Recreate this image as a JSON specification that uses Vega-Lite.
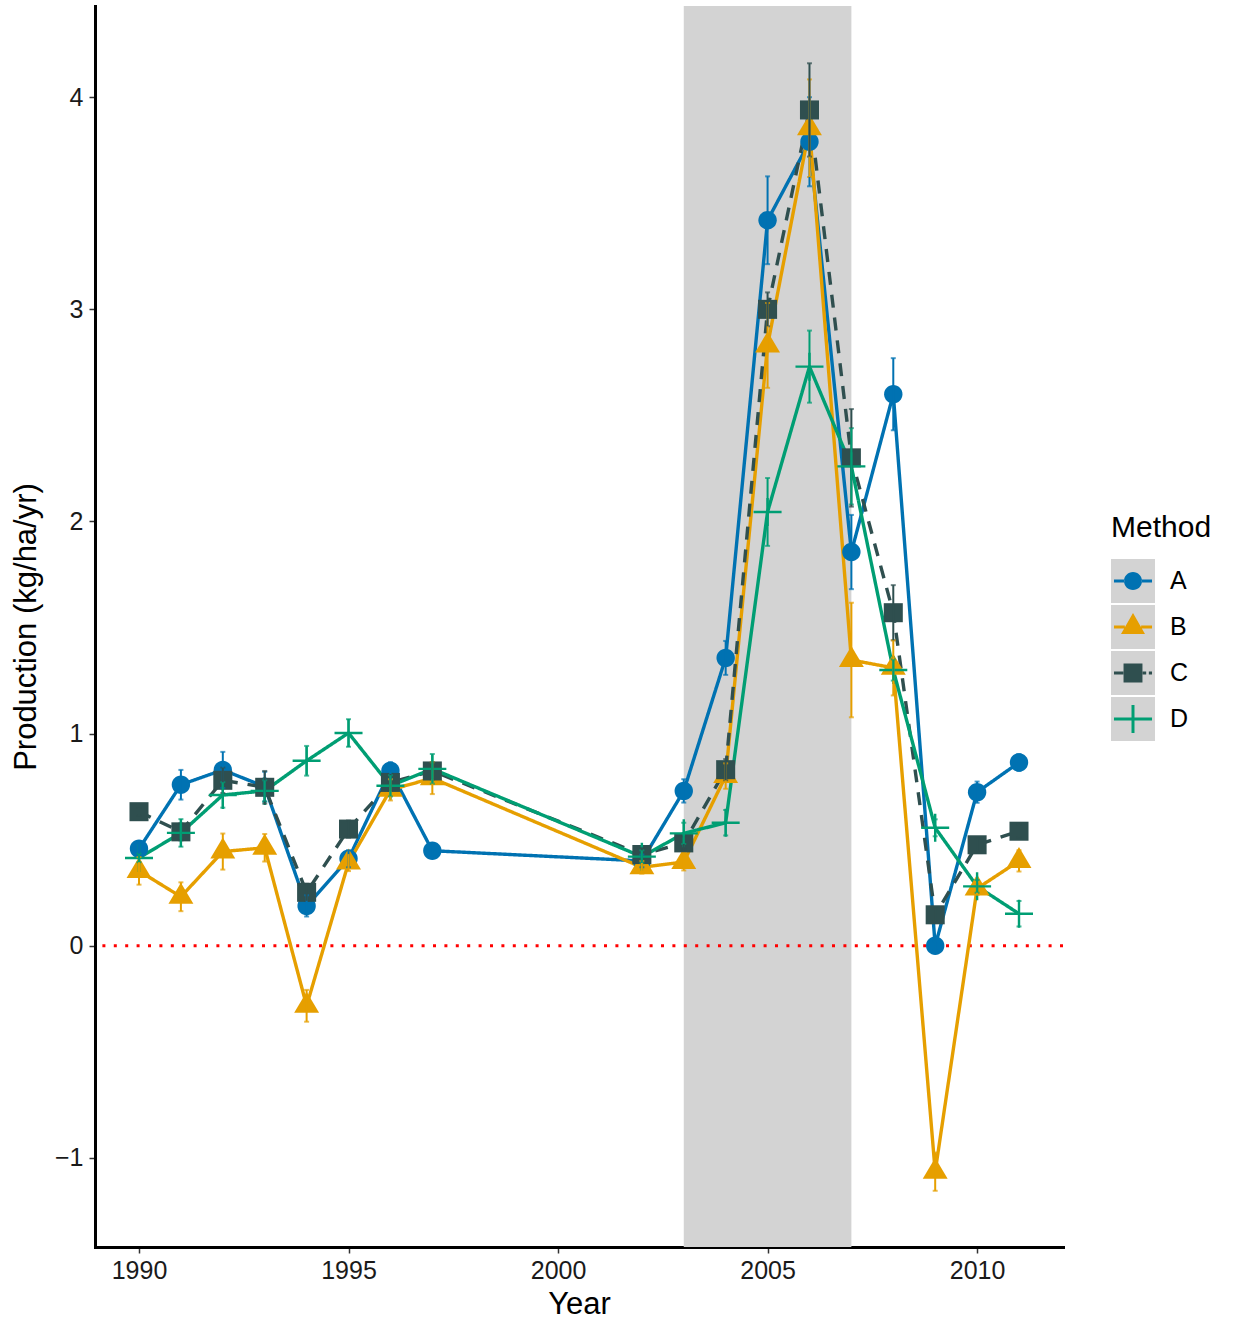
{
  "$schema": "https://vega.github.io/schema/vega-lite/v6.json",
  "autosize": "none",
  "width": 968,
  "height": 1241,
  "padding": {"left": 95, "top": 6, "right": 171, "bottom": 74},
  "background": "white",
  "config": {
    "font": "Liberation Sans",
    "view": {"stroke": null},
    "axis": {
      "grid": false,
      "domainColor": "black",
      "domainWidth": 3,
      "domainCap": "square",
      "tickColor": "#333333",
      "tickWidth": 1.5,
      "tickSize": 6,
      "labelFontSize": 25,
      "labelColor": "#1a1a1a",
      "titleFontSize": 31,
      "titleFontWeight": "normal",
      "titleColor": "black"
    },
    "legend": {
      "orient": "none",
      "legendX": 1016,
      "legendY": 507,
      "padding": 0,
      "titleFontSize": 30,
      "titleFontWeight": "normal",
      "titleColor": "black",
      "titlePadding": 16,
      "labelFontSize": 25,
      "labelColor": "black",
      "labelOffset": 15,
      "symbolSize": 1936,
      "symbolStrokeWidth": 0,
      "rowPadding": 2
    }
  },
  "datasets": {
    "production": [
      {"Year": 1990, "Method": "A", "Value": 0.457, "Lower": 0.427, "Upper": 0.487},
      {"Year": 1991, "Method": "A", "Value": 0.759, "Lower": 0.689, "Upper": 0.829},
      {"Year": 1992, "Method": "A", "Value": 0.829, "Lower": 0.744, "Upper": 0.914},
      {"Year": 1993, "Method": "A", "Value": 0.75, "Lower": 0.68, "Upper": 0.82},
      {"Year": 1994, "Method": "A", "Value": 0.188, "Lower": 0.138, "Upper": 0.238},
      {"Year": 1995, "Method": "A", "Value": 0.41, "Lower": 0.37, "Upper": 0.45},
      {"Year": 1996, "Method": "A", "Value": 0.825, "Lower": 0.785, "Upper": 0.865},
      {"Year": 1997, "Method": "A", "Value": 0.448, "Lower": 0.418, "Upper": 0.478},
      {"Year": 2002, "Method": "A", "Value": 0.40, "Lower": 0.37, "Upper": 0.43},
      {"Year": 2003, "Method": "A", "Value": 0.73, "Lower": 0.675, "Upper": 0.785},
      {"Year": 2004, "Method": "A", "Value": 1.357, "Lower": 1.277, "Upper": 1.437},
      {"Year": 2005, "Method": "A", "Value": 3.42, "Lower": 3.213, "Upper": 3.627},
      {"Year": 2006, "Method": "A", "Value": 3.79, "Lower": 3.58, "Upper": 4.0},
      {"Year": 2007, "Method": "A", "Value": 1.856, "Lower": 1.681, "Upper": 2.031},
      {"Year": 2008, "Method": "A", "Value": 2.6, "Lower": 2.43, "Upper": 2.77},
      {"Year": 2009, "Method": "A", "Value": 0.0, "Lower": -0.02, "Upper": 0.02},
      {"Year": 2010, "Method": "A", "Value": 0.724, "Lower": 0.674, "Upper": 0.774},
      {"Year": 2011, "Method": "A", "Value": 0.864, "Lower": 0.824, "Upper": 0.904},

      {"Year": 1990, "Method": "B", "Value": 0.353, "Lower": 0.288, "Upper": 0.418},
      {"Year": 1991, "Method": "B", "Value": 0.231, "Lower": 0.163, "Upper": 0.299},
      {"Year": 1992, "Method": "B", "Value": 0.444, "Lower": 0.359, "Upper": 0.529},
      {"Year": 1993, "Method": "B", "Value": 0.462, "Lower": 0.397, "Upper": 0.527},
      {"Year": 1994, "Method": "B", "Value": -0.283, "Lower": -0.358, "Upper": -0.208},
      {"Year": 1995, "Method": "B", "Value": 0.392, "Lower": 0.352, "Upper": 0.432},
      {"Year": 1996, "Method": "B", "Value": 0.735, "Lower": 0.685, "Upper": 0.785},
      {"Year": 1997, "Method": "B", "Value": 0.79, "Lower": 0.715, "Upper": 0.865},
      {"Year": 2002, "Method": "B", "Value": 0.37, "Lower": 0.34, "Upper": 0.40},
      {"Year": 2003, "Method": "B", "Value": 0.395, "Lower": 0.355, "Upper": 0.435},
      {"Year": 2004, "Method": "B", "Value": 0.80, "Lower": 0.74, "Upper": 0.86},
      {"Year": 2005, "Method": "B", "Value": 2.83, "Lower": 2.63, "Upper": 3.03},
      {"Year": 2006, "Method": "B", "Value": 3.854, "Lower": 3.624, "Upper": 4.084},
      {"Year": 2007, "Method": "B", "Value": 1.347, "Lower": 1.077, "Upper": 1.617},
      {"Year": 2008, "Method": "B", "Value": 1.31, "Lower": 1.18, "Upper": 1.44},
      {"Year": 2009, "Method": "B", "Value": -1.065, "Lower": -1.155, "Upper": -0.975},
      {"Year": 2010, "Method": "B", "Value": 0.27, "Lower": 0.24, "Upper": 0.30},
      {"Year": 2011, "Method": "B", "Value": 0.40, "Lower": 0.35, "Upper": 0.45},

      {"Year": 1990, "Method": "C", "Value": 0.632, "Lower": 0.612, "Upper": 0.652},
      {"Year": 1991, "Method": "C", "Value": 0.537, "Lower": 0.497, "Upper": 0.577},
      {"Year": 1992, "Method": "C", "Value": 0.78, "Lower": 0.72, "Upper": 0.84},
      {"Year": 1993, "Method": "C", "Value": 0.747, "Lower": 0.67, "Upper": 0.824},
      {"Year": 1994, "Method": "C", "Value": 0.252, "Lower": 0.212, "Upper": 0.292},
      {"Year": 1995, "Method": "C", "Value": 0.55, "Lower": 0.51, "Upper": 0.59},
      {"Year": 1996, "Method": "C", "Value": 0.77, "Lower": 0.73, "Upper": 0.81},
      {"Year": 1997, "Method": "C", "Value": 0.824, "Lower": 0.784, "Upper": 0.864},
      {"Year": 2002, "Method": "C", "Value": 0.43, "Lower": 0.40, "Upper": 0.46},
      {"Year": 2003, "Method": "C", "Value": 0.485, "Lower": 0.455, "Upper": 0.515},
      {"Year": 2004, "Method": "C", "Value": 0.83, "Lower": 0.78, "Upper": 0.88},
      {"Year": 2005, "Method": "C", "Value": 3.0, "Lower": 2.92, "Upper": 3.08},
      {"Year": 2006, "Method": "C", "Value": 3.94, "Lower": 3.72, "Upper": 4.16},
      {"Year": 2007, "Method": "C", "Value": 2.3, "Lower": 2.07, "Upper": 2.53},
      {"Year": 2008, "Method": "C", "Value": 1.57, "Lower": 1.44, "Upper": 1.70},
      {"Year": 2009, "Method": "C", "Value": 0.146, "Lower": 0.116, "Upper": 0.176},
      {"Year": 2010, "Method": "C", "Value": 0.476, "Lower": 0.446, "Upper": 0.506},
      {"Year": 2011, "Method": "C", "Value": 0.54, "Lower": 0.51, "Upper": 0.57},

      {"Year": 1990, "Method": "D", "Value": 0.414, "Lower": 0.394, "Upper": 0.434},
      {"Year": 1991, "Method": "D", "Value": 0.532, "Lower": 0.467, "Upper": 0.597},
      {"Year": 1992, "Method": "D", "Value": 0.711, "Lower": 0.651, "Upper": 0.771},
      {"Year": 1993, "Method": "D", "Value": 0.73, "Lower": 0.68, "Upper": 0.78},
      {"Year": 1994, "Method": "D", "Value": 0.872, "Lower": 0.802, "Upper": 0.942},
      {"Year": 1995, "Method": "D", "Value": 1.003, "Lower": 0.938, "Upper": 1.068},
      {"Year": 1996, "Method": "D", "Value": 0.754, "Lower": 0.704, "Upper": 0.804},
      {"Year": 1997, "Method": "D", "Value": 0.834, "Lower": 0.764, "Upper": 0.904},
      {"Year": 2002, "Method": "D", "Value": 0.42, "Lower": 0.39, "Upper": 0.45},
      {"Year": 2003, "Method": "D", "Value": 0.53, "Lower": 0.48, "Upper": 0.58},
      {"Year": 2004, "Method": "D", "Value": 0.58, "Lower": 0.52, "Upper": 0.64},
      {"Year": 2005, "Method": "D", "Value": 2.045, "Lower": 1.885, "Upper": 2.205},
      {"Year": 2006, "Method": "D", "Value": 2.73, "Lower": 2.56, "Upper": 2.90},
      {"Year": 2007, "Method": "D", "Value": 2.26, "Lower": 2.08, "Upper": 2.44},
      {"Year": 2008, "Method": "D", "Value": 1.30, "Lower": 1.25, "Upper": 1.35},
      {"Year": 2009, "Method": "D", "Value": 0.556, "Lower": 0.516, "Upper": 0.596},
      {"Year": 2010, "Method": "D", "Value": 0.28, "Lower": 0.25, "Upper": 0.31},
      {"Year": 2011, "Method": "D", "Value": 0.151, "Lower": 0.091, "Upper": 0.211}
    ]
  },
  "layer": [
    {
      "data": {"values": [{"Swatch": "A"}, {"Swatch": "B"}, {"Swatch": "C"}, {"Swatch": "D"}]},
      "mark": {"type": "point", "filled": true, "opacity": 0},
      "encoding": {
        "fill": {
          "field": "Swatch", "type": "nominal",
          "scale": {"range": ["#d3d3d3", "#d3d3d3", "#d3d3d3", "#d3d3d3"]},
          "legend": {
            "title": "Method",
            "titleOpacity": 0,
            "labelOpacity": 0,
            "symbolType": "square",
            "symbolOpacity": 1,
            "encode": {
              "symbols": {"update": {"opacity": {"value": 1}, "strokeWidth": {"value": 0}}}
            }
          }
        }
      }
    },
    {
      "data": {"values": [{"start": 2003, "end": 2007}]},
      "mark": {"type": "rect", "color": "#d3d3d3"},
      "encoding": {
        "x": {
          "field": "start", "type": "quantitative",
          "scale": {"domain": [1988.95, 2012.05], "nice": false, "zero": false},
          "axis": {
            "title": "Year", "values": [1990, 1995, 2000, 2005, 2010], "format": "d",
            "labelPadding": 5, "titlePadding": 6
          }
        },
        "x2": {"field": "end"}
      }
    },
    {
      "data": {"values": [{"level": 0}]},
      "mark": {"type": "rule", "color": "#ff0000", "strokeWidth": 3, "strokeDash": [3, 8.4]},
      "encoding": {
        "y": {
          "field": "level", "type": "quantitative",
          "scale": {"domain": [-1.42, 4.43], "nice": false, "zero": false},
          "axis": {
            "title": "Production (kg/ha/yr)", "values": [-1, 0, 1, 2, 3, 4], "format": "d",
            "labelPadding": 6, "titlePadding": 12
          }
        }
      }
    },
    {
      "data": {"name": "production"},
      "mark": {"type": "line", "strokeWidth": 3.4, "strokeJoin": "round"},
      "encoding": {
        "x": {"field": "Year", "type": "quantitative", "title": "Year"},
        "y": {"field": "Value", "type": "quantitative", "title": "Production (kg/ha/yr)"},
        "color": {
          "field": "Method", "type": "nominal", "title": "Method",
          "scale": {"domain": ["A", "B", "C", "D"], "range": ["#0072B2", "#E69F00", "#2F4F4F", "#009E73"]},
          "legend": {
            "title": "Method",
            "encode": {
              "symbols": {
                "update": {
                  "shape": {"signal": "datum.value === 'A' ? 'M-1,-1Z M1,1Z M-0.864,-0.073H-0.4V0.073H-0.864Z M0.4,-0.073H0.864V0.073H0.4Z M-0.41,0A0.41,0.41 0 1,0 0.41,0A0.41,0.41 0 1,0 -0.41,0Z' : datum.value === 'B' ? 'M-1,-1Z M1,1Z M-0.864,-0.073H-0.37V0.073H-0.864Z M0.37,-0.073H0.864V0.073H0.37Z M0,-0.636L0.545,0.318L-0.545,0.318Z' : datum.value === 'C' ? 'M-1,-1Z M1,1Z M-0.864,-0.073H-0.44V0.073H-0.864Z M0.44,-0.073H0.6V0.073H0.44Z M0.72,-0.073H0.864V0.073H0.72Z M-0.43,-0.43H0.43V0.43H-0.43Z' : 'M-1,-1Z M1,1Z M-0.864,-0.068H-0.068V-0.636H0.068V-0.068H0.864V0.068H0.068V0.636H-0.068V0.068H-0.864Z'"},
                  "strokeWidth": {"value": 0},
                  "opacity": {"value": 1},
                  "size": {"value": 1936}
                }
              }
            }
          }
        },
        "strokeDash": {
          "field": "Method", "type": "nominal",
          "scale": {"domain": ["A", "B", "C", "D"], "range": [[1, 0], [1, 0], [13, 10], [1, 0]]},
          "legend": null
        }
      }
    },
    {
      "data": {"name": "production"},
      "mark": {"type": "point", "filled": true, "opacity": 1, "size": 784, "strokeWidth": 0},
      "encoding": {
        "x": {"field": "Year", "type": "quantitative", "title": "Year"},
        "y": {"field": "Value", "type": "quantitative", "title": "Production (kg/ha/yr)"},
        "color": {
          "field": "Method", "type": "nominal", "title": "Method",
          "legend": {
            "title": "Method",
            "encode": {
              "symbols": {
                "update": {
                  "shape": {"signal": "datum.value === 'A' ? 'M-1,-1Z M1,1Z M-0.864,-0.073H-0.4V0.073H-0.864Z M0.4,-0.073H0.864V0.073H0.4Z M-0.41,0A0.41,0.41 0 1,0 0.41,0A0.41,0.41 0 1,0 -0.41,0Z' : datum.value === 'B' ? 'M-1,-1Z M1,1Z M-0.864,-0.073H-0.37V0.073H-0.864Z M0.37,-0.073H0.864V0.073H0.37Z M0,-0.636L0.545,0.318L-0.545,0.318Z' : datum.value === 'C' ? 'M-1,-1Z M1,1Z M-0.864,-0.073H-0.44V0.073H-0.864Z M0.44,-0.073H0.6V0.073H0.44Z M0.72,-0.073H0.864V0.073H0.72Z M-0.43,-0.43H0.43V0.43H-0.43Z' : 'M-1,-1Z M1,1Z M-0.864,-0.068H-0.068V-0.636H0.068V-0.068H0.864V0.068H0.068V0.636H-0.068V0.068H-0.864Z'"},
                  "strokeWidth": {"value": 0},
                  "opacity": {"value": 1},
                  "size": {"value": 1936}
                }
              }
            }
          }
        },
        "shape": {
          "field": "Method", "type": "nominal",
          "scale": {
            "domain": ["D", "C", "B", "A"],
            "range": [
              "M-1,-0.086H-0.086V-1H0.086V-0.086H1V0.086H0.086V1H-0.086V0.086H-1Z",
              "M-0.68,-0.68H0.68V0.68H-0.68Z",
              "M0,-1L0.89,0.5L-0.89,0.5Z",
              "M-0.657,0A0.657,0.657 0 1,0 0.657,0A0.657,0.657 0 1,0 -0.657,0Z"
            ]
          },
          "legend": null
        }
      }
    },
    {
      "data": {"name": "production"},
      "mark": {"type": "errorbar", "thickness": 2, "ticks": {"size": 5, "thickness": 2}},
      "encoding": {
        "x": {"field": "Year", "type": "quantitative", "title": "Year"},
        "y": {"field": "Lower", "type": "quantitative", "title": "Production (kg/ha/yr)"},
        "y2": {"field": "Upper"},
        "color": {
          "field": "Method", "type": "nominal", "title": "Method",
          "legend": {
            "title": "Method",
            "encode": {
              "symbols": {
                "update": {
                  "shape": {"signal": "datum.value === 'A' ? 'M-1,-1Z M1,1Z M-0.864,-0.073H-0.4V0.073H-0.864Z M0.4,-0.073H0.864V0.073H0.4Z M-0.41,0A0.41,0.41 0 1,0 0.41,0A0.41,0.41 0 1,0 -0.41,0Z' : datum.value === 'B' ? 'M-1,-1Z M1,1Z M-0.864,-0.073H-0.37V0.073H-0.864Z M0.37,-0.073H0.864V0.073H0.37Z M0,-0.636L0.545,0.318L-0.545,0.318Z' : datum.value === 'C' ? 'M-1,-1Z M1,1Z M-0.864,-0.073H-0.44V0.073H-0.864Z M0.44,-0.073H0.6V0.073H0.44Z M0.72,-0.073H0.864V0.073H0.72Z M-0.43,-0.43H0.43V0.43H-0.43Z' : 'M-1,-1Z M1,1Z M-0.864,-0.068H-0.068V-0.636H0.068V-0.068H0.864V0.068H0.068V0.636H-0.068V0.068H-0.864Z'"},
                  "strokeWidth": {"value": 0},
                  "opacity": {"value": 1},
                  "size": {"value": 1936}
                }
              }
            }
          }
        }
      }
    }
  ]
}
